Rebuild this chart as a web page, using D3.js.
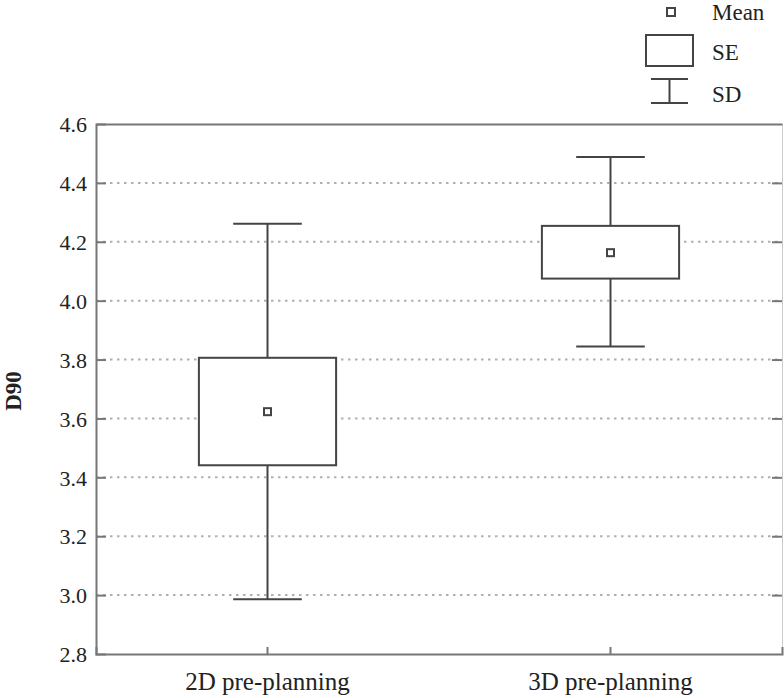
<!DOCTYPE html>
<html><head><meta charset="utf-8">
<script src="https://cdn.jsdelivr.net/npm/d3@7"></script>
<style>body{margin:0;background:#fff}svg{display:block}text{font-family:"Liberation Serif","DejaVu Serif",serif;fill:#222}</style>
</head><body><svg id="c" width="784" height="698"></svg>
<script>
const categories = ["2D pre-planning", "3D pre-planning"];
const means = [3.623, 4.163];
const seLow = [3.441, 4.075];
const seHigh = [3.806, 4.254];
const sdLow = [2.986, 3.844];
const sdHigh = [4.261, 4.488];
const yTicks = [2.8, 3.0, 3.2, 3.4, 3.6, 3.8, 4.0, 4.2, 4.4, 4.6];
const yLabel = "D90";
const legendLabels = ["Mean", "SE", "SD"];

const svg = d3.select("#c");
const L = 96, R = 782, T = 124, B = 654;
const x = d3.scaleBand().domain(categories).range([L, R]);
const y = d3.scaleLinear().domain([2.8, 4.6]).range([B, T]);
const frame = "#777", ink = "#444";

// grid
svg.append("g").selectAll("line").data(yTicks.filter(t => t > 2.8 && t < 4.6)).join("line")
  .attr("x1", L).attr("x2", R).attr("y1", d => y(d)).attr("y2", d => y(d))
  .attr("stroke", "#b0b0b0").attr("stroke-width", 2).attr("stroke-dasharray", "2.5,4.5");

// axes
const yAxis = svg.append("g").attr("transform", `translate(${L},0)`)
  .call(d3.axisLeft(y).tickValues(yTicks).tickFormat(d3.format(".1f")).tickSize(-10).tickPadding(9));
const yAxisR = svg.append("g").attr("transform", `translate(${R},0)`)
  .call(d3.axisRight(y).tickValues(yTicks).tickFormat("").tickSize(-10));
const xAxis = svg.append("g").attr("transform", `translate(0,${B})`)
  .call(d3.axisBottom(x).tickSize(-7).tickPadding(20));
const xAxisT = svg.append("g").attr("transform", `translate(0,${T})`)
  .call(d3.axisTop(x).tickSize(0).tickFormat(""));
[yAxis, yAxisR, xAxis, xAxisT].forEach(g => {
  g.select(".domain").attr("stroke", frame).attr("stroke-width", 2);
  g.selectAll(".tick line").attr("stroke", frame).attr("stroke-width", 2);
});
yAxisR.select(".domain").attr("stroke", "#ccc").attr("stroke-width", 1);
yAxis.selectAll("text").attr("font-size", 22).attr("fill", "#222").attr("font-family", "Liberation Serif").attr("dy", "0.35em");
xAxis.selectAll("text").attr("font-size", 25).attr("fill", "#222").attr("font-family", "Liberation Serif").attr("dy", "0.62em");
yAxis.selectAll(".tick").filter(d => d === 2.8 || d === 4.6).select("line").remove();
yAxisR.selectAll(".tick").filter(d => d === 2.8 || d === 4.6).select("line").remove();

svg.append("text").attr("transform", `translate(13,${(T + B) / 2 + 2}) rotate(-90)`)
  .attr("text-anchor", "middle").attr("dy", "0.35em").attr("font-size", 23).attr("font-weight", "bold").text(yLabel);

// boxes
const bw = x.bandwidth() * 0.4, cw = x.bandwidth() * 0.2;
const g = svg.append("g").selectAll("g").data(categories).join("g")
  .attr("transform", d => `translate(${x(d) + x.bandwidth() / 2},0)`);
g.append("line").attr("y1", (d, i) => y(sdHigh[i])).attr("y2", (d, i) => y(sdLow[i]))
  .attr("stroke", ink).attr("stroke-width", 2);
g.append("line").attr("x1", -cw / 2).attr("x2", cw / 2).attr("y1", (d, i) => y(sdHigh[i])).attr("y2", (d, i) => y(sdHigh[i]))
  .attr("stroke", ink).attr("stroke-width", 2);
g.append("line").attr("x1", -cw / 2).attr("x2", cw / 2).attr("y1", (d, i) => y(sdLow[i])).attr("y2", (d, i) => y(sdLow[i]))
  .attr("stroke", ink).attr("stroke-width", 2);
g.append("rect").attr("x", -bw / 2).attr("width", bw)
  .attr("y", (d, i) => y(seHigh[i])).attr("height", (d, i) => y(seLow[i]) - y(seHigh[i]))
  .attr("fill", "#fff").attr("stroke", ink).attr("stroke-width", 2);
g.append("rect").attr("x", -3.5).attr("width", 7)
  .attr("y", (d, i) => y(means[i]) - 3.5).attr("height", 7)
  .attr("fill", "#fff").attr("stroke", ink).attr("stroke-width", 2);

// legend
const lg = svg.append("g");
lg.append("rect").attr("x", 667).attr("y", 8).attr("width", 8).attr("height", 8)
  .attr("fill", "#fff").attr("stroke", ink).attr("stroke-width", 2);
lg.append("rect").attr("x", 646).attr("y", 35).attr("width", 47).attr("height", 31)
  .attr("fill", "#fff").attr("stroke", ink).attr("stroke-width", 2);
lg.append("line").attr("x1", 651).attr("x2", 688).attr("y1", 79).attr("y2", 79).attr("stroke", ink).attr("stroke-width", 2);
lg.append("line").attr("x1", 651).attr("x2", 688).attr("y1", 103).attr("y2", 103).attr("stroke", ink).attr("stroke-width", 2);
lg.append("line").attr("x1", 669.5).attr("x2", 669.5).attr("y1", 79).attr("y2", 103).attr("stroke", ink).attr("stroke-width", 2);
const ly = [12, 52, 94];
lg.selectAll("text").data(legendLabels).join("text")
  .attr("x", 712).attr("y", (d, i) => ly[i]).attr("dy", "0.35em").attr("font-size", 23).text(d => d);
</script></body></html>
